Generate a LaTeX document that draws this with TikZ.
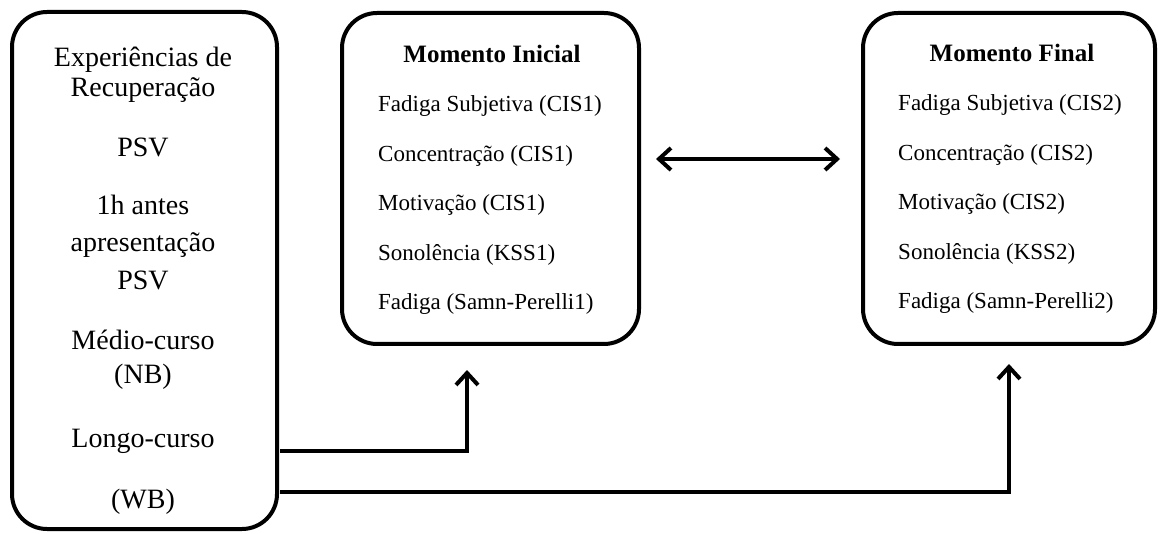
\documentclass[tikz,border=0pt]{standalone}
\usepackage{fontspec}
\setmainfont{Liberation Serif}
\usetikzlibrary{arrows.meta,positioning}
\tikzset{
 ponta/.tip={Straight Barb[length=12pt,width=22pt]},
 caixa/.style={draw,line width=4pt,rounded corners=35pt,inner sep=0pt},
 seta/.style={line width=4pt,-ponta},
 txt/.style={inner sep=0pt,anchor=base},
 esq/.style={txt,font=\fontsize{28}{34}\selectfont},
 titulo/.style={txt,font=\bfseries\fontsize{25}{30}\selectfont},
 item/.style={txt,anchor=base west,font=\fontsize{23}{28}\selectfont}
}
\begin{document}
\begin{tikzpicture}[x=1pt,y=1pt]
 \useasboundingbox (0,0) rectangle (1158,533);
 % caixas
 \node[caixa,minimum width=265pt,minimum height=517pt] (exp) at (144.5,262.5) {};
 \node[caixa,minimum width=297pt,minimum height=331pt] (ini) at (490.5,354.5) {};
 \node[caixa,minimum width=292pt,minimum height=331pt] (fin) at (1009,354.5) {};
 % caixa da esquerda
 \node[esq] (e1) at (143,466) {Experiências de};
 \node[esq] (e2) at (143,436) {Recuperação};
 \node[esq] (e3) at (143,376) {PSV};
 \node[esq] (e4) at (143,318) {1h antes};
 \node[esq] (e5) at (143,281) {apresentação};
 \node[esq] (e6) at (143,243) {PSV};
 \node[esq] (e7) at (143,183) {Médio-curso};
 \node[esq] (e8) at (143,150) {(NB)};
 \node[esq] (e9) at (143,86) {Longo-curso};
 \node[esq] (e10) at (143,25) {(WB)};
 % momentos
 \node[titulo] (tini) at (492,470) {Momento Inicial};
 \node[titulo] (tfin) at (1012,471) {Momento Final};
 \foreach \lbl/\yy [count=\i] in {{Fadiga Subjetiva (CIS}/421,{Concentração (CIS}/371.5,{Motivação (CIS}/322,{Sonolência (KSS}/272.5,{Fadiga (Samn-Perelli}/223}{
  \node[item] (ini\i) at (378,\yy) {\lbl1)};
  \node[item] (fin\i) at (898,\yy+1) {\lbl2)};
 }
 % setas
 \coordinate (s1) at (280,82);
 \coordinate (s2) at (280,41);
 \draw[seta] (s1) -| ([xshift=-23.5pt,yshift=-24pt]ini.south);
 \draw[seta] (s2) -| ([yshift=-18pt]fin.south);
 \draw[seta,ponta-ponta]
  ([xshift=15pt,yshift=19.5pt]ini.east) -- ([xshift=-21pt,yshift=19.5pt]fin.west);
\end{tikzpicture}
\end{document}
